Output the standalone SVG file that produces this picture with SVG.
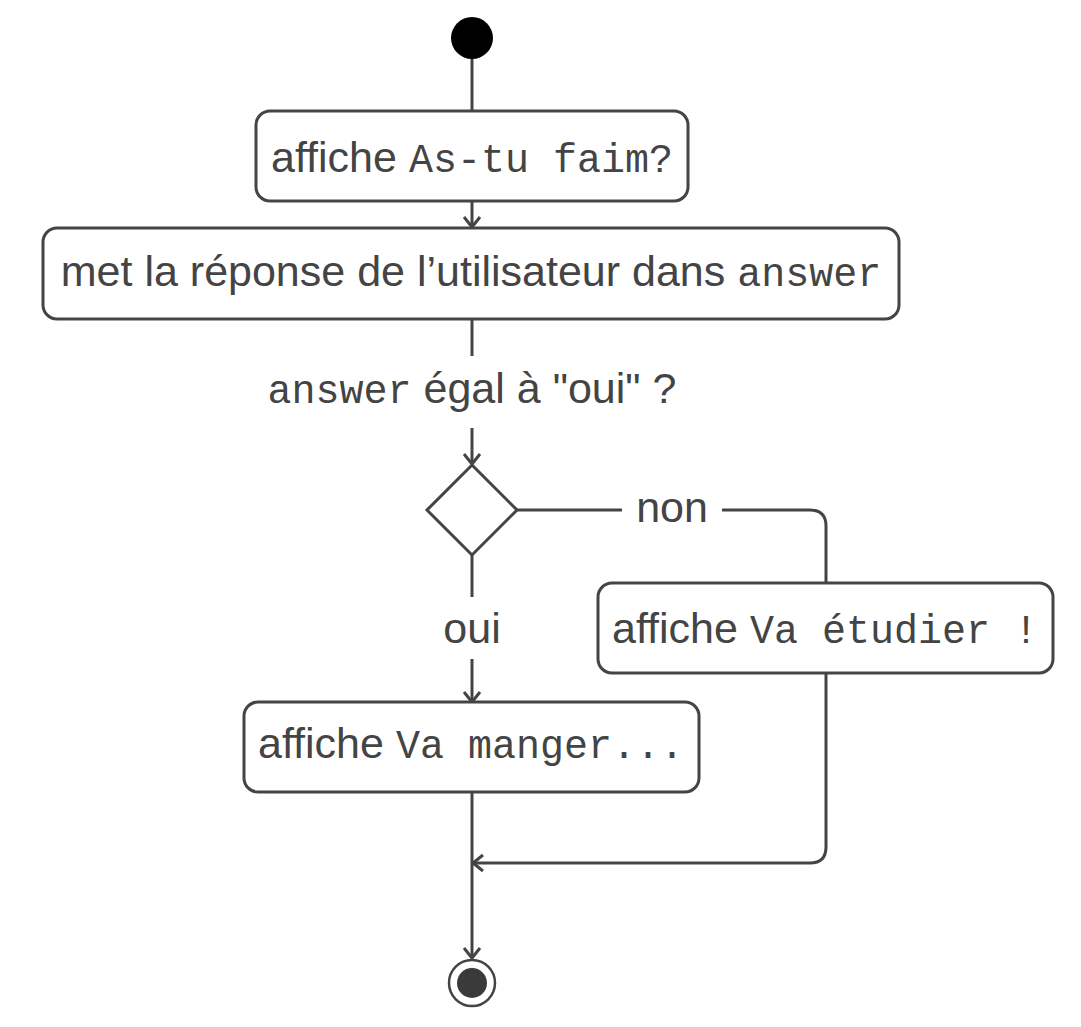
<svg xmlns="http://www.w3.org/2000/svg" width="1081" height="1027" viewBox="0 0 1081 1027">
<style>
.box{fill:#fff;stroke:#444;stroke-width:3}
.ln{fill:none;stroke:#444;stroke-width:3}
.t{font-family:"Liberation Sans","DejaVu Sans",sans-serif;font-size:43px;fill:#444;text-anchor:middle}
.m{font-family:"Liberation Mono","DejaVu Sans Mono",monospace;font-size:40px}
</style>
<defs>
<marker id="arr" markerUnits="userSpaceOnUse" markerWidth="24" markerHeight="24" viewBox="-12 -12 24 24" refX="0" refY="0" orient="auto">
<path d="M-10,-8 L0,0 L-10,8" fill="none" stroke="#444" stroke-width="3"/>
</marker>
</defs>
<g id="connectors">
<line class="ln" x1="472" y1="59" x2="472" y2="111"/>
<line class="ln" x1="472" y1="201" x2="472" y2="227" marker-end="url(#arr)"/>
<line class="ln" x1="472" y1="319" x2="472" y2="356"/>
<line class="ln" x1="472" y1="428" x2="472" y2="464" marker-end="url(#arr)"/>
<line class="ln" x1="517" y1="510" x2="622" y2="510"/>
<path class="ln" d="M722,510 H810 Q826,510 826,526 V583"/>
<line class="ln" x1="472" y1="555" x2="472" y2="597"/>
<line class="ln" x1="472" y1="659" x2="472" y2="702" marker-end="url(#arr)"/>
<path class="ln" d="M826,673 V847 Q826,863 810,863 H473" marker-end="url(#arr)"/>
<line class="ln" x1="472" y1="792" x2="472" y2="958" marker-end="url(#arr)"/>
<text class="t" x="472" y="403"><tspan class="m">answer</tspan> égal à "oui" ?</text>
<text class="t" x="672" y="522">non</text>
<text class="t" x="472" y="643">oui</text>
</g>
<g id="start"><circle cx="472" cy="38" r="21" fill="#000"/></g>
<g id="n1">
<rect class="box" x="256" y="111" width="432" height="90" rx="14"/>
<text class="t" x="472" y="172">affiche <tspan class="m">As-tu faim?</tspan></text>
</g>
<g id="n2">
<rect class="box" x="43" y="228" width="856" height="91" rx="14"/>
<text class="t" x="471" y="286">met la réponse de l’utilisateur dans <tspan class="m">answer</tspan></text>
</g>
<g id="decision"><path class="box" d="M472,465 L517,510 L472,555 L427,510 Z"/></g>
<g id="n3">
<rect class="box" x="598" y="583" width="455" height="90" rx="14"/>
<text class="t" x="825" y="643">affiche <tspan class="m">Va étudier !</tspan></text>
</g>
<g id="n4">
<rect class="box" x="244" y="702" width="455" height="90" rx="14"/>
<text class="t" x="471" y="758">affiche <tspan class="m">Va manger...</tspan></text>
</g>
<g id="end">
<circle cx="472" cy="983" r="23" fill="#fff" stroke="#444" stroke-width="2.5"/>
<circle cx="472" cy="983" r="15" fill="#3a3a3a"/>
</g>
</svg>
